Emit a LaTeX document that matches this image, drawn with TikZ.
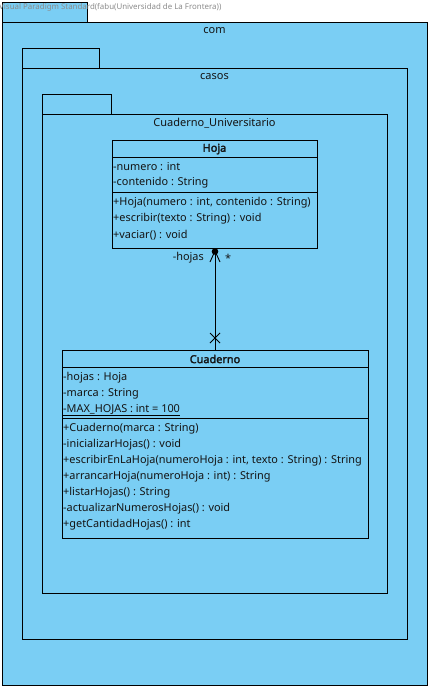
\documentclass[tikz,border=0pt]{standalone}
\usepackage{fontspec}
\setmainfont{Noto Sans}
\newfontfamily\boldfam{Noto Sans}[FakeBold=2.5]
\usetikzlibrary{arrows.meta}
\definecolor{pkgblue}{RGB}{122,206,244}
\definecolor{wmgray}{RGB}{140,140,140}
\definecolor{txtcol}{RGB}{20,20,20}
\tikzset{
  pkg/.style={draw=black, fill=pkgblue, line width=0.9pt},
  cls/.style={draw=black, line width=0.9pt},
  txt/.style={inner sep=0pt, anchor=west, text=txtcol, font=\fontsize{10.9}{12}\selectfont},
  ttl/.style={inner sep=0pt, text=txtcol, font=\fontsize{10.9}{12}\selectfont\boldfam},
  plbl/.style={inner sep=0pt, text=txtcol, font=\fontsize{11}{12}\selectfont},
  wm/.style={inner sep=0pt, anchor=west, text=wmgray, font=\fontsize{7.9}{9}\selectfont},
}
\begin{document}
\begin{tikzpicture}[x=1pt,y=-1pt]
\useasboundingbox (0,0) rectangle (432,690);
\fill[white] (0,0) rectangle (432,690);
% com
\draw[pkg] (2,2) rectangle (87,22);
\draw[pkg] (2,22) rectangle (427,685);
\node[wm] (wmark) at (-1,7.5) {Visual Paradigm Standard(fabu(Universidad de La Frontera))};
\node[plbl] (comlbl) at (214.5,31) {com};
% casos
\draw[pkg] (22,48) rectangle (99,68);
\draw[pkg] (22,68) rectangle (407,639);
\node[plbl] (casoslbl) at (214.5,77) {casos};
% Cuaderno_Universitario
\draw[pkg] (42,94) rectangle (111,114);
\draw[pkg] (42,114) rectangle (387,593);
\node[plbl] (culbl) at (214.5,123) {Cuaderno\_Universitario};
% Hoja class
\draw[cls] (112,140) rectangle (317,248);
\draw[cls] (112,157) -- (317,157);
\draw[cls] (112,192) -- (317,192);
\coordinate (hojabot) at (215,248);
\node[ttl] (hojaname) at (214.5,149) {Hoja};
\node[txt] (h1) at (113,166.8) {-numero : int};
\node[txt] (h2) at (113,182.8) {-contenido : String};
\node[txt] (h3) at (113,202.8) {+Hoja(numero : int, contenido : String)};
\node[txt] (h4) at (113,218.8) {+escribir(texto : String) : void};
\node[txt] (h5) at (113,234.8) {+vaciar() : void};
% Cuaderno class
\draw[cls] (62,350) rectangle (368,538);
\draw[cls] (62,367) -- (368,367);
\draw[cls] (62,418) -- (368,418);
\coordinate (cuadtop) at (215,350);
\node[ttl] (cuadname) at (215,359) {Cuaderno};
\node[txt] (c1) at (63,377.3) {-hojas : Hoja};
\node[txt] (c2) at (63,393.3) {-marca : String};
\node[txt] (c3) at (63,409.3) {-MAX\_HOJAS : int = 100};
\draw[line width=0.8pt] (c3.west |- 0,415) -- (c3.east |- 0,415);
\node[txt] (m1) at (63,428.8) {+Cuaderno(marca : String)};
\node[txt] (m2) at (63,444.8) {-inicializarHojas() : void};
\node[txt] (m3) at (63,460.8) {+escribirEnLaHoja(numeroHoja : int, texto : String) : String};
\node[txt] (m4) at (63,476.8) {+arrancarHoja(numeroHoja : int) : String};
\node[txt] (m5) at (63,492.8) {+listarHojas() : String};
\node[txt] (m6) at (63,508.8) {-actualizarNumerosHojas() : void};
\node[txt] (m7) at (63,524.8) {+getCantidadHojas() : int};
% association
\draw[line width=0.9pt] (hojabot) -- (cuadtop);
\fill (215,251.5) circle (3.3);
\draw[line width=0.9pt] (210,262) -- (215,251) -- (220,262);
\draw[line width=0.9pt] (210,333) -- (220,343) (210,343) -- (220,333);
\node[txt, anchor=east] (rolelbl) at (204,257.5) {-hojas};
\node[txt, anchor=center] (multlbl) at (228,258) {*};
\end{tikzpicture}
\end{document}
